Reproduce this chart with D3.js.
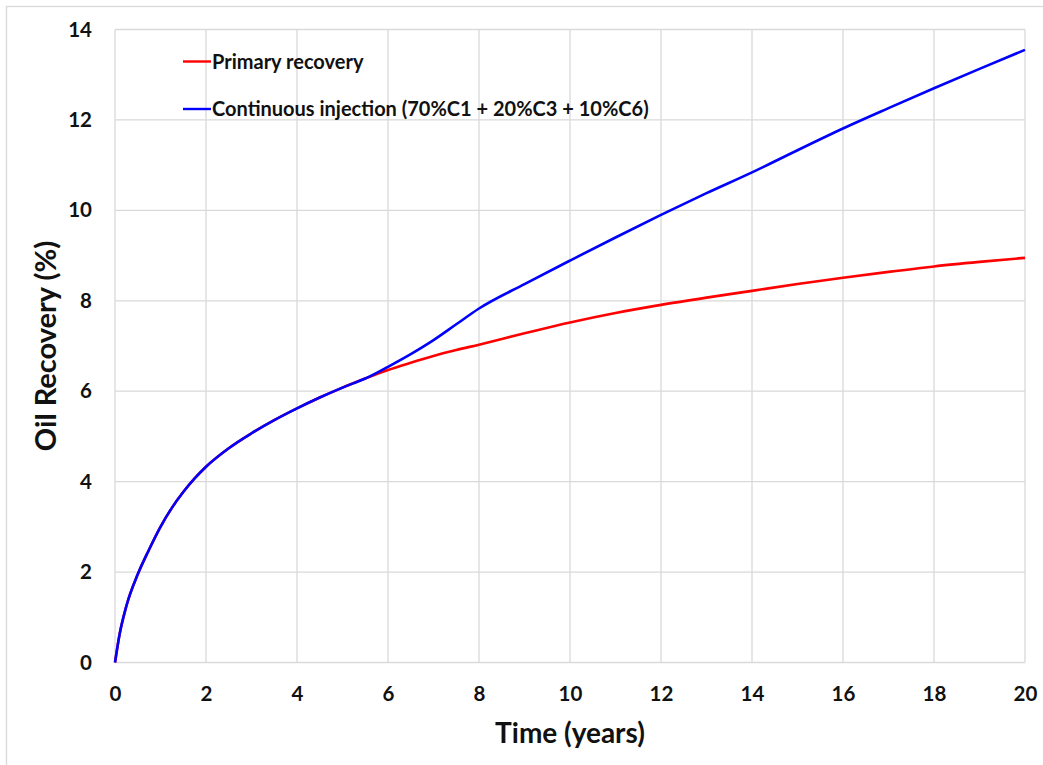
<!DOCTYPE html>
<html lang="en">
<head>
    <meta charset="UTF-8">
    <title>Oil Recovery vs Time</title>
    <script src="https://cdn.jsdelivr.net/npm/d3@7"></script>
    <style>
        body{
            margin: 0;
            background: #ffffff;
        }
        text{
            font-family: Lato, "Open Sans", sans-serif;
            font-weight: bold;
            fill: #111;
        }
        .grid line{
            stroke: #d9d9d9;
            stroke-width: 1.3;
        }
    </style>
</head>
<body>
<svg id="chart" width="1043" height="765"></svg>

<script>
    // data
    let timeYears    = [0, 0.1, 0.25, 0.5, 0.75, 1.0, 1.25, 1.5, 1.75, 2.0, 2.5, 3.0, 3.5, 4.0, 4.5, 5.0, 5.5, 6.0, 6.5, 7.0, 7.5, 8.0, 9.0, 10.0, 11.0, 12.0, 13.0, 14.0, 15.0, 16.0, 17.0, 18.0, 19.0, 20.0]
    let primaryRec   = [0, 0.62, 1.25, 1.95, 2.5, 3.0, 3.42, 3.77, 4.07, 4.33, 4.74, 5.07, 5.36, 5.62, 5.86, 6.08, 6.28, 6.47, 6.63, 6.78, 6.91, 7.03, 7.28, 7.52, 7.73, 7.91, 8.07, 8.22, 8.37, 8.51, 8.64, 8.76, 8.86, 8.95]
    let injectionRec = [0, 0.62, 1.25, 1.95, 2.5, 3.0, 3.42, 3.77, 4.07, 4.33, 4.74, 5.07, 5.36, 5.62, 5.86, 6.08, 6.28, 6.54, 6.82, 7.13, 7.48, 7.83, 8.37, 8.89, 9.4, 9.9, 10.38, 10.84, 11.33, 11.81, 12.26, 12.7, 13.13, 13.55]
    let seriesNames = ["Primary recovery", "Continuous injection (70%C1 + 20%C3 + 10%C6)"]
    let seriesColors = ["#ff0000", "#0000ff"]
    let xTicks = [0, 2, 4, 6, 8, 10, 12, 14, 16, 18, 20]
    let yTicks = [0, 2, 4, 6, 8, 10, 12, 14]

    const svg = d3.select("#chart")
    const plotLeft = 115, plotRight = 1025, plotTop = 29.5, plotBottom = 662.5

    // outer frame (only left and top edges show in the picture)
    svg.append("rect")
        .attr("x", 6.5).attr("y", 6.5)
        .attr("width", 1100).attr("height", 800)
        .attr("fill", "none")
        .attr("stroke", "#d9d9d9")
        .attr("stroke-width", 1.3)

    let x = d3.scaleLinear().domain([0, 20]).range([plotLeft, plotRight])
    let y = d3.scaleLinear().domain([0, 14]).range([plotBottom, plotTop])

    // grid
    let grid = svg.append("g").attr("class", "grid")
    grid.selectAll(".vx").data(xTicks).enter().append("line")
        .attr("x1", d => x(d)).attr("x2", d => x(d))
        .attr("y1", y(0)).attr("y2", y(14))
    grid.selectAll(".hy").data(yTicks).enter().append("line")
        .attr("x1", x(0)).attr("x2", x(20))
        .attr("y1", d => y(d)).attr("y2", d => y(d))

    // axes via d3 axis, lines hidden
    svg.append("g")
        .attr("transform", "translate(0," + plotBottom + ")")
        .call(d3.axisBottom(x).tickValues(xTicks).tickSize(0).tickPadding(24))
    svg.append("g")
        .attr("transform", "translate(" + plotLeft + ",0)")
        .call(d3.axisLeft(y).tickValues(yTicks).tickSize(0).tickPadding(23))
    svg.selectAll(".domain").remove()
    svg.selectAll(".tick text")
        .attr("font-family", "Lato, 'Open Sans', sans-serif")
        .attr("font-weight", "bold")
        .attr("font-size", 20.5)
        .attr("fill", "#111")

    // curves
    let line = d3.line()
        .x((d, i) => x(timeYears[i]))
        .y(d => y(d))
        .curve(d3.curveMonotoneX)

    svg.append("path")
        .attr("d", line(primaryRec))
        .attr("fill", "none")
        .attr("stroke", seriesColors[0])
        .attr("stroke-width", 2.6)
    svg.append("path")
        .attr("d", line(injectionRec))
        .attr("fill", "none")
        .attr("stroke", seriesColors[1])
        .attr("stroke-width", 2.6)

    // legend
    let legend = svg.append("g")
    seriesNames.forEach((name, i) => {
        let ly = 61.5 + i * 47.5
        legend.append("line")
            .attr("x1", 183).attr("x2", 211)
            .attr("y1", ly).attr("y2", ly)
            .attr("stroke", seriesColors[i])
            .attr("stroke-width", 2.4)
        legend.append("text")
            .attr("x", 212).attr("y", ly)
            .attr("dy", "0.35em")
            .attr("font-size", 20)
            .text(name)
    })

    // axis titles
    svg.append("text")
        .attr("x", 570).attr("y", 733)
        .attr("dy", "0.35em")
        .attr("text-anchor", "middle")
        .attr("font-size", 28)
        .text("Time (years)")
    svg.append("text")
        .attr("transform", "translate(46,346) rotate(-90)")
        .attr("dy", "0.35em")
        .attr("text-anchor", "middle")
        .attr("font-size", 29)
        .text("Oil Recovery (%)")
</script>
</body>
</html>
